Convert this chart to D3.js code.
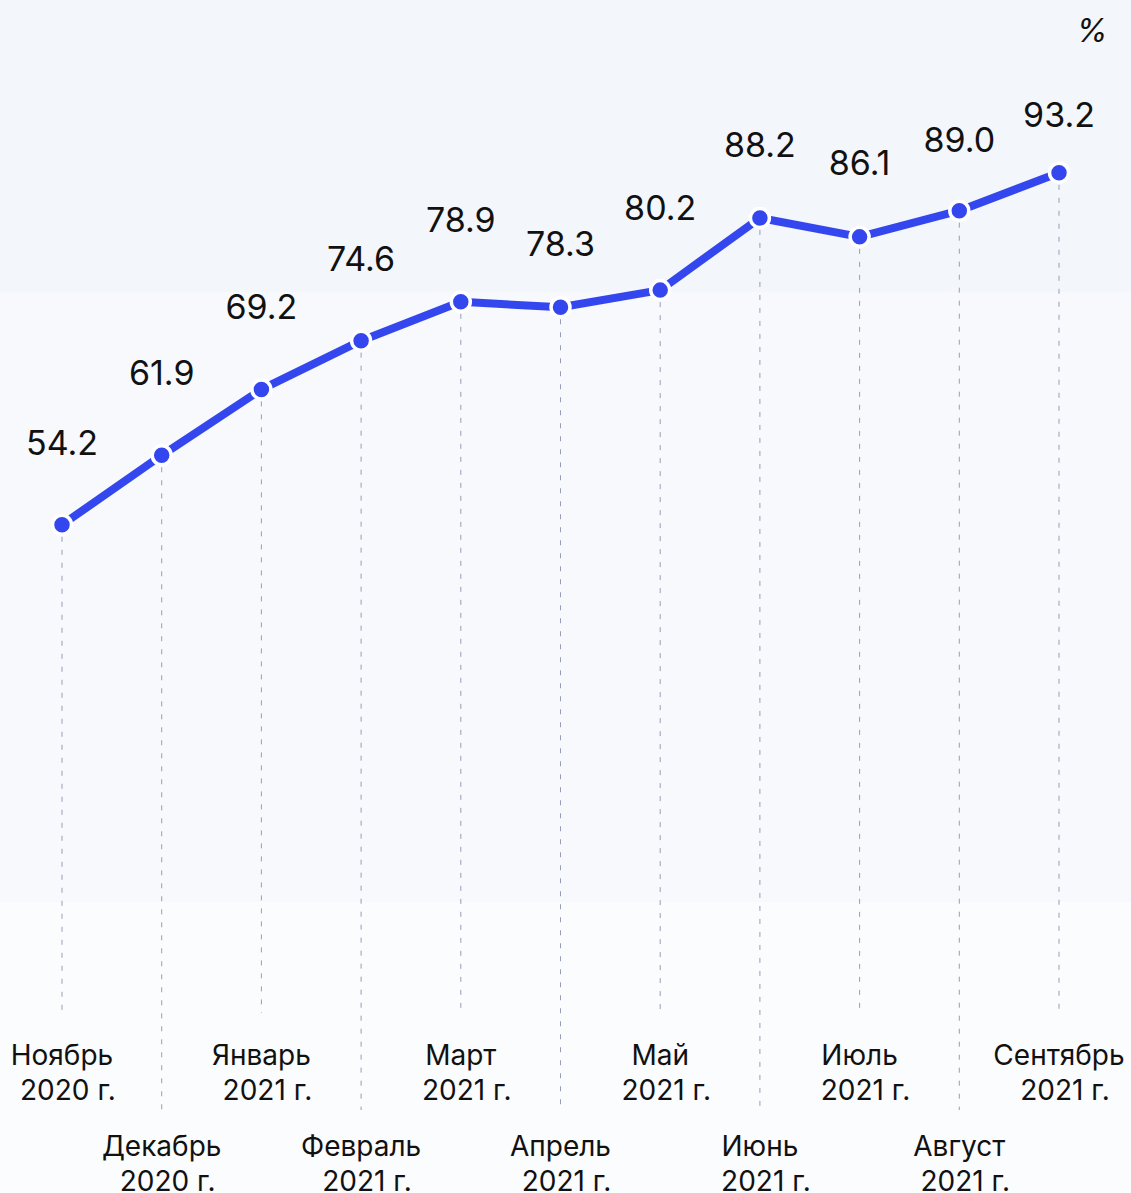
<!DOCTYPE html>
<html>
<head>
<meta charset="utf-8">
<script src="https://cdn.jsdelivr.net/npm/d3@7"></script>
<style>
  html, body { margin: 0; padding: 0; background: #ffffff; }
  svg { display: block; }
</style>
</head>
<body>
<div id="chart"></div>
<script>
// ---- data ----
const monthNames = ["Ноябрь", "Декабрь", "Январь", "Февраль", "Март", "Апрель", "Май", "Июнь", "Июль", "Август", "Сентябрь"];
const yearLabels = ["2020 г.", "2020 г.", "2021 г.", "2021 г.", "2021 г.", "2021 г.", "2021 г.", "2021 г.", "2021 г.", "2021 г.", "2021 г."];
const values = [54.2, 61.9, 69.2, 74.6, 78.9, 78.3, 80.2, 88.2, 86.1, 89.0, 93.2];
const unitLabel = "%";

// ---- layout ----
const W = 1131, H = 1193;
const labelLift = [82, 82, 82, 82, 82, 63, 82, 73, 74, 71, 58];

const svg = d3.select("#chart").append("svg")
  .attr("width", W).attr("height", H)
  .style("font-family", "Inter, 'Noto Sans', sans-serif");

// background bands
const bands = [
  {y0: 0, y1: 292, c: "#f3f6fa"},
  {y0: 292, y1: 902, c: "#f8f9fc"},
  {y0: 902, y1: H, c: "#fbfcfe"}
];
svg.selectAll("rect.bg").data(bands).join("rect")
  .attr("class", "bg")
  .attr("x", 0).attr("width", W)
  .attr("y", d => d.y0).attr("height", d => d.y1 - d.y0)
  .attr("fill", d => d.c);

const x = d3.scalePoint()
  .domain(d3.range(values.length))
  .range([62, 1059]);

const y = d3.scaleLinear()
  .domain([0, 100])
  .range([1014, 111.4]);

// dashed guides
svg.selectAll("line.guide").data(values).join("line")
  .attr("class", "guide")
  .attr("x1", (d, i) => x(i)).attr("x2", (d, i) => x(i))
  .attr("y1", d => y(d) + 12)
  .attr("y2", (d, i) => i % 2 === 0 ? 1013 : 1110)
  .attr("stroke", "#959db8")
  .attr("stroke-width", 1)
  .attr("stroke-dasharray", "5 8");

// line
const line = d3.line()
  .x((d, i) => x(i))
  .y(d => y(d));

svg.append("path")
  .datum(values)
  .attr("d", line)
  .attr("fill", "none")
  .attr("stroke", "#3447ef")
  .attr("stroke-width", 8)
  .attr("stroke-linejoin", "round");

// markers
svg.selectAll("circle.pt").data(values).join("circle")
  .attr("class", "pt")
  .attr("cx", (d, i) => x(i))
  .attr("cy", d => y(d))
  .attr("r", 9.5)
  .attr("fill", "#3447ef")
  .attr("stroke", "#ffffff")
  .attr("stroke-width", 3.5);

// value labels
svg.selectAll("text.val").data(values).join("text")
  .attr("class", "val")
  .attr("x", (d, i) => x(i))
  .attr("y", (d, i) => y(d) - labelLift[i] + 12)
  .attr("text-anchor", "middle")
  .attr("font-size", 34)
  .attr("fill", "#111111")
  .text(d => d.toFixed(1));

// category labels
const cat = svg.selectAll("text.cat").data(monthNames).join("text")
  .attr("class", "cat")
  .attr("text-anchor", "middle")
  .attr("font-size", 28)
  .attr("fill", "#111111");
cat.append("tspan")
  .attr("x", (d, i) => x(i))
  .attr("y", (d, i) => i % 2 === 0 ? 1065 : 1156)
  .text(d => d);
cat.append("tspan")
  .attr("x", (d, i) => x(i) + 6)
  .attr("y", (d, i) => i % 2 === 0 ? 1100 : 1191)
  .text((d, i) => yearLabels[i]);

// unit
svg.append("text")
  .attr("x", 1092).attr("y", 42)
  .attr("text-anchor", "middle")
  .attr("font-size", 32)
  .attr("font-style", "italic")
  .attr("fill", "#111111")
  .text(unitLabel);
</script>
</body>
</html>
